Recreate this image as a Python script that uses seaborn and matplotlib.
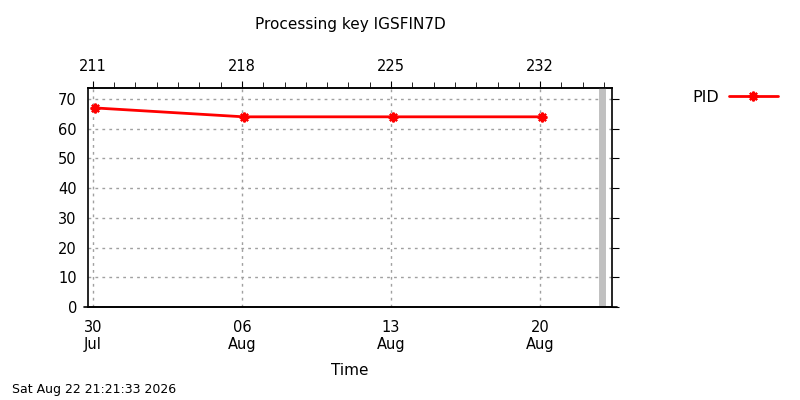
import numpy as np
import pandas as pd
import matplotlib
matplotlib.use("Agg")
import matplotlib.pyplot as plt
import matplotlib.dates as mdates
import seaborn as sns

# data
times = ["2026-07-30 02:00", "2026-08-06 02:00", "2026-08-13 02:00", "2026-08-20 02:00"]
pid_values = [67, 64, 64, 64]
now_stamp = "2026-08-22 21:21:33"
title = "Processing key IGSFIN7D"
footer = "Sat Aug 22 21:21:33 2026"

df = pd.DataFrame({"Time": pd.to_datetime(times), "PID": pid_values})
now = pd.Timestamp(now_stamp)

sns.set_style("white")
plt.rcParams["font.family"] = ["DejaVu Sans"]
plt.rcParams["font.size"] = 10
plt.rcParams["text.color"] = "black"
plt.rcParams["axes.labelcolor"] = "black"
plt.rcParams["xtick.color"] = "black"
plt.rcParams["ytick.color"] = "black"

fig = plt.figure(figsize=(8, 4), dpi=100)
ax = fig.add_axes([0.11, 0.2325, 0.655, 0.5475])

star = (8, 2, 0)
sns.lineplot(data=df, x="Time", y="PID", ax=ax, color="red", linewidth=2,
             marker=star, markersize=7, markeredgewidth=1.6, markeredgecolor="red",
             label="PID", legend=False)

x0 = pd.Timestamp("2026-07-29 18:30")
x1 = pd.Timestamp("2026-08-23 09:00")
ax.set_xlim(x0, x1)
ax.set_ylim(0, 73.7)
ax.set_yticks(np.arange(0, 71, 10))

# "now" marker
ax.axvline(now, color="#c0c0c0", linewidth=5, zorder=1)

ax.xaxis.set_major_locator(mdates.DayLocator(bymonthday=[6, 13, 20, 30]))
ax.xaxis.set_major_formatter(mdates.DateFormatter("%d\n%b"))
ax.xaxis.set_minor_locator(mdates.DayLocator())
ax.grid(True, which="major", color="#a0a0a0", linestyle=(0, (2, 3)), linewidth=1)

for s in ax.spines.values():
    s.set_color("black")
    s.set_linewidth(1.2)
ax.tick_params(axis="both", which="both", direction="out", color="black",
               labelcolor="black", labelsize=10.5, pad=3)
ax.tick_params(axis="x", which="major", length=5, pad=4)
ax.tick_params(axis="x", which="minor", length=4)
ax.tick_params(axis="y", which="major", length=5, right=True)
ax.axhline(0, xmin=-0.007, xmax=1.01, color="black", linewidth=1.2, clip_on=False)

ax.set_xlabel("Time", fontsize=11, labelpad=8, color="black")
ax.set_ylabel("")

# day of year along the top
top = ax.secondary_xaxis("top")
top.xaxis.set_major_locator(mdates.DayLocator(bymonthday=[6, 13, 20, 30]))
top.xaxis.set_major_formatter(plt.FuncFormatter(
    lambda v, p: mdates.num2date(v).strftime("%j")))
top.xaxis.set_minor_locator(mdates.DayLocator())
top.tick_params(which="both", direction="out", labelsize=10.5, pad=5,
                color="black", labelcolor="black")
top.tick_params(which="major", length=5)
top.tick_params(which="minor", length=4)
top.spines["top"].set_linewidth(1.2)

fig.text(0.4375, 0.94, title, ha="center", va="center", fontsize=11, color="black")
fig.text(0.015, 0.025, footer, ha="left", va="center", fontsize=9, color="black")

handles, labels = ax.get_legend_handles_labels()
leg = fig.legend(handles, labels, loc="center", bbox_to_anchor=(0.919, 0.757),
                 frameon=False, markerfirst=False, handlelength=3.1, fontsize=11.5,
                 handletextpad=0.6)
for t in leg.get_texts():
    t.set_color("black")

fig.savefig("out.png", dpi=100)
